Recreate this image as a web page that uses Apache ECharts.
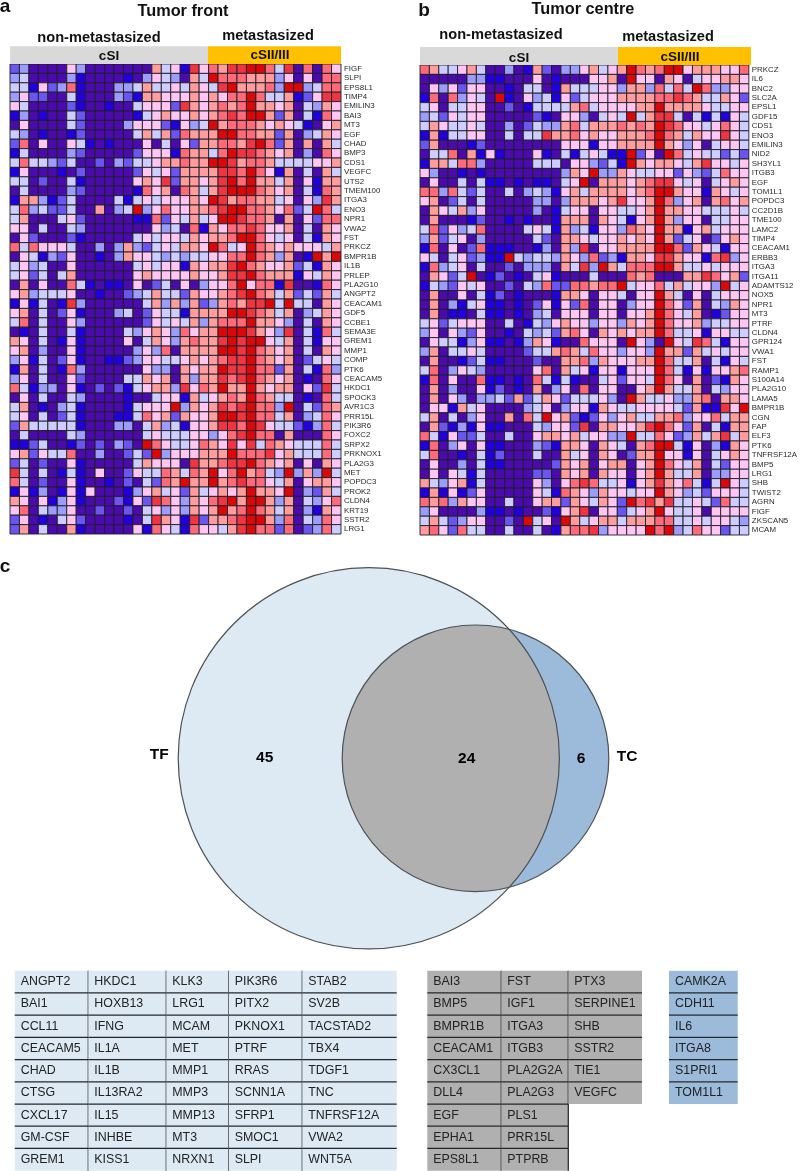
<!DOCTYPE html>
<html>
<head>
<meta charset="utf-8">
<style>html,body{margin:0;padding:0;background:#fff}#c{width:800px;height:1171px}</style>
<script src="https://cdn.jsdelivr.net/npm/echarts@6/dist/echarts.min.js"></script>
</head>
<body>
<div id="c"></div>
<script>
const genesA = ['FIGF','SLPI','EPS8L1','TIMP4','EMILIN3','BAI3','MT3','EGF','CHAD','BMP3','CDS1','VEGFC','UTS2','TMEM100','ITGA3','ENO3','NPR1','VWA2','FST','PRKCZ','BMPR1B','IL1B','PRLEP','PLA2G10','ANGPT2','CEACAM1','GDF5','CCBE1','SEMA3E','GREM1','MMP1','COMP','PTK6','CEACAM5','HKDC1','SPOCK3','AVR1C3','PRR15L','PIK3R6','FOXC2','SRPX2','PRKNOX1','PLA2G3','MET','POPDC3','PROK2','CLDN4','KRT19','SSTR2','LRG1'];
const genesB = ['PRKCZ','IL6','BNC2','SLC2A','EPSL1','GDF15','CDS1','ENO3','EMILIN3','NID2','SH3YL1','ITGB3','EGF','TOM1L1','POPDC3','CC2D1B','TME100','LAMC2','TIMP4','CEACAM1','ERBB3','ITGA3','ITGA11','ADAMTS12','NOX5','NPR1','MT3','PTRF','CLDN4','GPR124','VWA1','FST','RAMP1','S100A14','PLA2G10','LAMA5','BMPR1B','CGN','FAP','ELF3','PTK6','TNFRSF12A','BMP5','LRG1','SHB','TWIST2','AGRN','FIGF','ZKSCAN5','MCAM'];

// expression level per cell, 0 (lowest) to 9 (highest); one string per gene, 35 samples
const levelsA = [
'2 3 0 0 0 0 5 3 0 0 0 0 0 0 0 6 4 5 1 8 5 7 6 8 8 9 9 7 4 8 0 7 0 7 5',
'3 4 0 0 0 0 3 1 0 0 0 0 1 0 3 5 4 3 0 6 4 9 7 7 7 6 6 6 3 5 0 5 0 7 7',
'4 4 1 5 2 3 7 1 0 0 0 3 3 4 6 4 4 5 4 6 5 4 8 9 6 6 6 7 3 9 9 3 4 7 7',
'3 5 2 2 0 0 4 1 0 0 0 3 2 1 6 6 5 5 5 6 5 6 5 7 7 9 7 4 4 6 1 2 5 8 8',
'5 4 0 0 0 0 2 1 0 0 1 0 0 4 5 5 5 2 8 6 5 6 7 6 7 9 6 6 5 6 0 4 3 6 5',
'1 3 0 1 0 0 4 2 0 0 0 0 0 1 4 5 6 5 5 6 5 6 7 8 7 9 9 6 2 6 0 4 1 7 5',
'0 5 0 0 0 0 4 2 0 0 0 0 3 5 5 5 2 1 5 3 4 9 6 7 7 7 6 5 6 5 4 1 0 5 6',
'4 3 0 1 0 0 1 2 0 0 0 0 0 4 6 4 6 2 7 6 6 6 9 9 7 7 6 6 2 6 0 3 4 6 5',
'2 7 0 5 0 0 5 4 1 0 1 0 0 0 5 0 4 0 5 2 6 6 7 7 6 8 9 7 2 6 0 6 0 6 4',
'1 4 0 0 0 0 3 2 0 0 0 0 0 2 5 5 5 1 7 6 6 4 7 9 8 8 7 6 5 6 0 3 0 7 5',
'4 7 4 4 3 2 4 0 0 2 0 3 2 4 4 5 6 6 7 6 6 9 9 8 6 7 7 6 4 4 4 4 5 5 6',
'1 5 0 0 0 1 0 2 0 0 0 0 0 2 5 4 5 2 6 6 6 6 8 8 7 9 7 5 1 6 0 4 0 6 4',
'4 4 0 2 0 0 4 1 0 0 0 0 0 5 6 5 8 2 6 6 5 6 8 9 7 9 6 6 4 6 0 5 1 6 6',
'0 4 0 0 0 0 3 2 0 0 0 0 0 1 7 5 6 0 7 6 4 6 8 9 9 9 7 6 5 6 0 4 1 7 6',
'1 6 6 3 1 2 4 0 0 0 0 4 1 4 5 4 5 5 5 6 5 9 8 6 7 7 6 6 4 5 0 5 3 8 6',
'4 7 3 4 2 2 4 0 0 6 0 3 4 9 3 5 7 5 5 6 6 7 8 9 9 7 7 6 5 7 2 4 9 7 4',
'4 6 0 0 0 4 5 2 0 0 0 0 0 1 1 7 2 5 4 6 4 5 9 9 8 7 7 6 0 6 0 5 2 7 7',
'5 5 0 4 0 0 4 3 0 0 0 0 0 0 0 5 3 4 0 7 1 6 5 7 7 8 7 5 5 6 0 4 0 6 5',
'0 5 2 0 0 0 2 1 0 0 0 0 0 4 5 4 5 5 4 6 5 6 6 7 9 9 7 5 4 5 0 4 1 6 5',
'7 4 7 5 5 5 4 0 0 3 0 3 6 3 2 4 5 4 6 6 5 9 7 4 5 9 7 6 5 6 5 5 5 4 6',
'0 5 4 1 3 2 5 0 0 1 0 3 6 5 5 4 3 4 3 4 4 5 5 7 7 9 7 6 3 6 0 1 9 6 9',
'4 5 3 4 0 0 5 0 0 0 0 0 0 4 5 4 5 5 1 6 5 6 6 8 9 7 6 5 5 6 2 4 1 6 5',
'4 5 2 4 0 4 6 0 0 0 0 0 0 5 6 5 5 5 5 6 5 5 6 8 8 9 7 6 6 6 1 5 4 6 5',
'0 6 0 5 0 0 7 4 1 0 1 1 0 5 0 2 4 0 5 0 3 5 5 7 9 5 7 7 1 8 0 0 1 7 5',
'5 6 3 4 4 4 5 0 0 1 0 0 2 3 4 6 4 4 2 6 5 5 6 7 8 9 7 6 4 6 2 4 2 6 4',
'1 5 1 4 0 1 8 3 0 0 0 0 0 0 4 6 3 6 3 6 2 3 6 7 6 8 8 9 4 9 4 4 0 6 5',
'5 6 0 4 0 2 5 1 0 0 0 3 4 0 2 5 4 4 1 6 6 6 6 9 9 8 7 6 4 6 0 3 4 6 5',
'4 7 0 4 0 0 5 3 0 0 0 0 0 0 2 5 4 5 4 6 3 6 7 7 7 9 6 6 5 3 0 4 0 6 5',
'0 1 0 4 0 0 4 1 0 0 0 0 4 3 5 6 5 3 7 5 6 6 9 9 9 8 6 5 3 8 0 4 1 7 4',
'6 5 0 4 0 1 5 1 0 0 0 0 5 0 4 6 5 3 6 7 6 6 8 9 8 9 9 5 4 6 0 4 1 5 5',
'5 6 0 3 0 0 5 1 0 0 0 0 0 3 5 3 7 0 6 6 6 6 9 9 8 9 7 6 5 6 0 4 0 6 5',
'3 5 1 4 0 2 5 1 0 0 1 1 2 3 5 5 4 4 5 6 5 6 7 8 8 9 7 6 5 6 0 2 4 5 4',
'1 6 0 4 0 1 7 3 0 0 0 0 0 0 5 3 3 0 6 5 6 6 9 8 8 9 7 7 2 6 0 4 1 7 3',
'3 5 0 4 0 0 5 2 0 0 0 0 4 4 6 5 6 0 6 3 6 6 8 7 8 9 7 6 5 6 0 1 0 7 5',
'7 4 1 3 3 0 5 1 0 2 0 2 1 4 5 6 6 3 8 5 7 6 9 6 6 9 6 5 6 6 0 5 2 8 4',
'0 5 0 4 0 0 4 3 0 0 0 0 1 0 0 4 5 5 1 6 4 5 6 7 6 9 7 6 4 4 0 1 0 7 4',
'4 6 0 1 0 3 4 1 0 0 0 0 1 4 5 5 5 9 3 6 5 6 8 7 8 9 7 7 3 9 0 4 2 7 6',
'4 5 0 4 0 2 4 1 0 0 0 1 1 4 7 5 6 2 6 5 5 6 9 9 8 9 7 7 4 6 0 3 4 7 5',
'2 6 4 4 4 4 4 1 0 0 0 3 3 0 4 6 3 4 1 5 5 6 8 8 7 9 8 5 4 4 2 1 3 7 4',
'0 4 0 0 0 0 4 3 0 0 0 0 0 0 4 5 4 4 4 5 5 3 5 7 8 9 7 7 0 6 0 0 0 7 5',
'1 1 2 4 0 0 1 2 0 2 0 3 2 0 9 7 5 4 4 5 7 6 5 8 5 8 4 7 6 5 4 4 4 7 4',
'5 6 2 5 4 4 7 0 0 3 0 0 2 4 2 9 3 5 5 5 6 6 6 9 7 7 7 8 5 6 4 4 4 7 4',
'2 4 0 2 0 0 5 1 0 0 0 0 0 4 6 5 5 5 0 8 6 6 7 8 8 9 7 6 5 6 0 5 0 6 5',
'8 4 0 4 0 1 4 1 0 5 0 0 2 5 4 4 7 6 4 7 6 9 5 7 9 6 7 4 3 9 3 6 3 9 4',
'7 4 0 2 0 0 5 1 0 0 1 0 2 0 4 2 7 6 9 6 6 9 6 7 8 7 7 5 4 6 0 5 6 6 5',
'1 5 1 3 0 1 5 1 5 0 0 0 1 3 5 6 4 5 2 6 4 5 6 5 6 9 6 6 5 9 0 3 2 6 4',
'6 5 0 5 1 3 5 1 0 0 0 2 1 5 2 8 7 5 3 6 5 7 8 9 6 9 9 6 3 6 0 4 3 5 7',
'5 7 0 4 3 3 5 0 0 2 0 0 2 0 4 5 3 5 3 6 5 6 9 6 7 9 7 6 4 6 0 3 1 6 5',
'2 5 0 1 0 4 5 2 0 0 0 0 1 0 4 8 6 5 1 8 2 6 6 7 8 9 9 6 3 7 0 4 3 7 5',
'2 6 0 4 0 0 6 1 0 0 0 0 0 5 1 7 5 4 1 7 5 5 4 6 8 9 7 7 2 7 0 2 3 7 4'
];
const levelsB = [
'7 6 4 4 5 6 4 0 0 3 0 1 6 2 0 3 3 5 6 4 5 6 9 7 6 7 9 9 5 6 6 6 5 5 7',
'0 0 0 0 0 3 3 1 1 0 0 0 5 0 1 0 0 0 5 5 6 0 9 5 5 0 6 5 0 4 5 5 6 6 5',
'0 5 3 5 2 5 5 0 0 1 0 4 4 0 1 6 4 4 4 5 5 3 6 6 3 7 4 7 4 9 7 3 3 5 5',
'1 7 0 7 3 5 4 0 9 1 0 5 3 4 1 5 2 4 5 5 5 6 6 6 6 7 7 8 7 6 4 4 6 5 2',
'4 5 0 4 4 5 5 0 0 2 0 1 4 4 4 4 6 7 4 5 5 5 5 6 6 9 6 6 6 6 5 4 4 5 5',
'3 4 2 5 4 5 5 0 0 0 0 0 2 1 0 5 5 3 0 4 5 4 9 4 6 8 8 4 0 4 1 4 1 5 4',
'4 6 5 4 4 5 4 0 0 3 0 2 4 3 3 6 7 4 6 6 6 7 6 7 6 9 8 7 5 5 4 5 7 5 4',
'1 6 1 4 4 5 5 0 0 4 0 4 4 8 6 6 7 5 6 5 5 6 6 6 7 9 7 6 4 6 5 5 8 5 4',
'2 6 0 0 0 1 2 0 0 0 0 0 0 0 0 5 5 5 1 5 5 6 6 6 6 9 6 5 3 5 0 4 5 5 4',
'0 4 4 7 0 6 1 5 1 0 0 0 5 1 0 4 1 4 5 4 1 1 9 2 5 0 9 7 4 5 4 4 2 4 2',
'1 6 6 4 7 7 3 0 0 0 0 0 4 4 4 0 5 5 3 2 4 1 9 6 5 6 6 5 4 6 8 5 5 4 5',
'5 3 0 0 1 0 1 0 0 0 0 0 0 0 0 3 6 5 9 3 3 6 5 4 4 5 5 2 5 3 2 4 7 5 5',
'0 5 0 0 4 0 4 1 1 0 1 0 1 1 0 4 5 9 0 6 6 6 5 6 7 8 8 5 4 5 0 4 5 6 5',
'7 7 3 7 4 2 4 0 0 4 0 3 4 3 1 5 6 4 6 6 6 6 5 6 7 9 9 6 5 5 1 6 5 4 5',
'5 6 0 2 4 0 4 0 0 0 0 0 3 3 0 3 6 6 6 5 6 8 5 5 6 9 7 3 5 6 0 6 7 5 6',
'0 6 5 4 6 3 5 0 0 0 0 0 3 0 1 4 5 5 0 5 5 4 4 5 6 9 6 6 5 5 4 4 4 5 4',
'0 6 0 0 0 1 2 0 0 1 0 1 0 0 1 6 6 6 0 6 5 4 1 5 6 9 6 3 5 5 0 4 4 5 5',
'4 7 2 5 3 4 7 0 0 0 0 4 5 4 1 6 3 4 1 5 5 3 7 6 5 9 6 6 1 5 6 4 5 5 5',
'3 6 2 4 5 0 3 0 0 0 0 0 4 2 0 6 6 5 4 5 5 6 5 6 5 9 6 2 4 5 0 2 5 6 5',
'1 7 0 5 0 2 7 1 1 1 0 0 1 3 0 6 3 8 0 5 5 6 6 6 6 9 9 7 2 6 5 4 1 5 5',
'5 4 0 4 5 2 3 1 1 9 4 3 4 4 3 6 5 3 7 2 3 1 6 6 5 8 8 6 5 5 1 7 8 3 5',
'1 7 3 4 5 0 4 0 0 2 0 3 3 3 0 6 4 8 3 9 6 4 7 7 7 9 9 6 4 4 5 4 5 5 5',
'0 6 5 2 4 9 0 1 2 0 1 0 4 5 1 0 0 0 4 0 0 0 7 6 7 0 0 0 6 6 8 7 5 6 2',
'1 4 3 2 5 4 5 0 0 2 0 4 3 7 2 2 7 7 6 7 7 9 4 5 5 7 4 6 4 5 5 3 9 4 5',
'0 6 0 0 5 0 4 1 2 0 1 0 0 0 1 6 6 5 0 5 5 4 0 5 5 9 6 4 0 5 0 4 5 5 5',
'0 6 0 3 1 4 5 1 1 0 1 0 2 5 1 5 2 7 0 5 5 0 3 5 5 9 7 5 2 6 0 4 3 6 5',
'0 6 0 1 1 0 4 1 1 0 1 0 3 4 0 5 5 5 0 5 5 0 5 5 6 9 7 5 4 6 0 1 2 5 5',
'4 5 2 4 5 5 5 0 0 4 0 1 4 3 5 6 5 5 3 5 5 3 6 5 6 9 7 5 5 6 3 4 4 5 5',
'3 5 0 5 3 2 5 0 0 1 0 4 3 4 2 6 7 5 0 6 5 6 5 6 6 9 7 4 4 5 1 5 5 4 4',
'0 5 4 4 1 3 5 1 1 0 1 3 6 5 1 0 0 7 5 5 5 0 9 5 3 0 9 5 4 8 7 4 1 5 5',
'3 6 0 4 4 5 4 0 0 0 0 2 4 4 6 7 6 4 7 5 5 3 5 5 3 9 6 6 2 6 4 5 4 5 5',
'0 6 0 0 1 2 4 1 1 0 0 0 2 0 0 6 6 7 3 6 5 5 5 6 6 9 7 4 4 6 0 4 1 5 4',
'4 7 0 3 5 4 3 0 0 0 0 0 5 7 0 6 4 5 1 5 5 1 5 5 5 9 7 4 1 5 1 5 5 6 7',
'1 7 0 5 0 0 7 1 1 0 1 0 7 4 1 4 1 0 0 4 5 2 5 5 4 9 7 5 0 6 0 2 1 6 5',
'0 6 0 3 0 0 5 1 2 0 1 0 6 0 3 5 0 7 0 5 5 0 0 5 6 9 6 4 4 6 0 4 3 5 5',
'0 6 0 5 3 0 3 3 4 2 6 2 4 6 5 2 4 4 4 5 3 0 9 6 4 4 5 3 3 6 7 0 6 6 5',
'0 5 5 1 6 4 5 0 0 0 0 3 4 5 0 3 5 5 1 6 5 4 4 5 5 5 5 4 2 6 1 1 8 5 9',
'4 6 0 4 0 3 5 0 0 6 0 7 4 9 5 6 2 1 2 5 3 5 6 4 4 6 6 7 3 5 5 7 4 6 6',
'0 6 2 1 3 1 5 1 1 0 0 0 4 3 5 5 2 8 0 6 6 5 5 6 8 9 7 5 2 6 0 4 1 6 6',
'7 4 1 5 2 2 4 0 0 4 0 0 5 6 6 5 6 4 5 5 3 3 9 4 4 7 5 2 3 6 4 6 8 4 6',
'1 7 0 3 5 0 5 1 1 0 0 0 3 2 1 6 6 5 0 6 5 4 0 6 7 9 9 4 1 5 0 3 1 6 5',
'4 7 0 0 1 0 4 1 2 0 0 0 4 0 0 6 4 5 0 6 5 0 2 6 6 9 5 5 1 5 0 4 5 6 5',
'0 5 0 0 3 0 4 1 1 0 0 0 0 0 2 6 5 6 0 5 6 6 0 5 6 9 7 5 4 6 0 4 2 5 5',
'0 5 0 5 4 1 4 0 0 0 0 0 2 2 0 6 5 6 0 6 5 5 0 5 6 9 6 4 4 6 0 3 3 5 5',
'6 4 3 5 6 1 4 0 0 0 0 0 5 3 0 5 7 8 7 4 4 5 1 5 6 8 6 5 7 4 1 4 9 5 4',
'1 6 1 5 1 2 5 0 0 0 0 0 5 4 1 7 6 5 3 6 5 5 4 5 5 9 6 5 3 4 2 5 5 5 4',
'7 6 7 3 6 5 5 0 0 4 0 0 5 6 6 2 6 5 4 6 5 2 9 7 8 6 8 4 4 5 4 2 7 4 4',
'3 5 0 0 0 0 3 1 1 0 1 0 0 2 1 5 6 8 0 5 5 2 4 5 6 9 5 4 4 5 0 5 5 5 5',
'4 6 4 2 3 5 5 0 0 2 0 9 4 5 0 9 6 4 5 6 6 4 6 6 6 7 7 4 4 5 4 5 5 4 3',
'6 7 5 2 7 4 4 0 0 4 0 0 4 0 1 6 7 7 8 3 5 5 5 5 9 7 9 3 4 7 5 5 2 4 4'
];
const levelColors = ['#4A0AAC','#2200DC','#6A55EE','#9C9CFA','#CDCDFF','#FFC6F2','#FF9C9C','#FF6A78','#EE3540','#DC0808'];
const samples = Array.from({length: 35}, (_, i) => 'S' + (i + 1));

const overlapCounts = {TF: 45, both: 24, TC: 6};
const tableTF = [
  ['ANGPT2','BAI1','CCL11','CEACAM5','CHAD','CTSG','CXCL17','GM-CSF','GREM1'],
  ['HKDC1','HOXB13','IFNG','IL1A','IL1B','IL13RA2','IL15','INHBE','KISS1'],
  ['KLK3','LRG1','MCAM','MET','MMP1','MMP3','MMP13','MT3','NRXN1'],
  ['PIK3R6','PITX2','PKNOX1','PTRF','RRAS','SCNN1A','SFRP1','SMOC1','SLPI'],
  ['STAB2','SV2B','TACSTAD2','TBX4','TDGF1','TNC','TNFRSF12A','VWA2','WNT5A']
];
const tableBoth = [
  ['BAI3','BMP5','BMPR1B','CEACAM1','CX3CL1','DLL4','EGF','EPHA1','EPS8L1'],
  ['FST','IGF1','ITGA3','ITGB3','PLA2G2A','PLA2G3','PLS1','PRR15L','PTPRB'],
  ['PTX3','SERPINE1','SHB','SSTR2','TIE1','VEGFC']
];
const tableTC = [['CAMK2A','CDH11','IL6','ITGA8','S1PRI1','TOM1L1']];

// ---------- layout and styling ----------
const FONT = '"Liberation Sans", Arial, sans-serif';
const cells = rows => rows.flatMap((r, y) => r.trim().split(/\s+/).map((v, x) => [x, y, +v]));

function heatGrid(left, top, genes) {
  return {
    grid: {left, top, width: 331, height: 470},
    x: {type: 'category', data: samples, axisLine: {show: false}, axisTick: {show: false}, axisLabel: {show: false}, splitLine: {show: false}},
    y: {type: 'category', data: genes, inverse: true, position: 'right',
        axisLine: {show: false}, axisTick: {show: false}, splitLine: {show: false},
        axisLabel: {interval: 0, fontSize: 7.9, color: '#2a2a2a', fontFamily: FONT, margin: 3}}
  };
}
const hidden = t => Object.assign({show: false}, t);

function heatSeries(idx, rows) {
  return {
    type: 'custom', xAxisIndex: idx, yAxisIndex: idx, data: cells(rows), silent: true, encode: {x: 0, y: 1},
    renderItem(params, api) {
      const p = api.coord([api.value(0), api.value(1)]);
      const s = api.size([1, 1]);
      return {type: 'rect', shape: {x: p[0] - s[0] / 2, y: p[1] - s[1] / 2, width: s[0], height: s[1]},
        style: {fill: levelColors[api.value(2)], stroke: '#1d1d2a', lineWidth: 0.9}};
    }
  };
}

function tableParts(cols, edges, fill, left, top, gridIdx) {
  const rowCount = cols[0].length, rowH = 22.22;
  const data = cols.flatMap((col, c) => col.map((_, r) => [c, r]));
  return {
    grid: {left, top, width: edges[edges.length - 1], height: rowCount * rowH},
    x: hidden({type: 'value', min: 0, max: edges[edges.length - 1]}),
    y: hidden({type: 'category', inverse: true, data: cols[0].map((_, i) => i)}),
    series: {
      type: 'custom', xAxisIndex: gridIdx, yAxisIndex: gridIdx, data, silent: true,
      encode: {x: 0, y: 1},
      renderItem(params, api) {
        const c = api.value(0), r = api.value(1);
        const h = api.size([0, 1])[1];
        const p0 = api.coord([edges[c], r]), p1 = api.coord([edges[c + 1], r]);
        const y0 = p0[1] - h / 2, y1 = y0 + h;
        const kids = [{type: 'rect', shape: {x: p0[0], y: y0, width: p1[0] - p0[0], height: h}, style: {fill}}];
        const line = {stroke: '#23272b', lineWidth: 1.25};
        if (r > 0) kids.push({type: 'line', shape: {x1: p0[0], y1: y0, x2: p1[0], y2: y0}, style: line});
        if (c < cols.length - 1) kids.push({type: 'line', shape: {x1: p1[0], y1: y0, x2: p1[0], y2: y1}, style: line});
        kids.push({type: 'text', z2: 5, style: {text: cols[c][r], x: p0[0] + 6, y: p0[1], fill: '#222',
          fontSize: 12.4, fontFamily: FONT, align: 'left', verticalAlign: 'middle', textAlign: 'left', textVerticalAlign: 'middle'}});
        return {type: 'group', children: kids};
      }
    }
  };
}

const hA = heatGrid(10, 64, genesA);
const hB = heatGrid(420, 65, genesB);
const tTF = tableParts(tableTF, [0, 73.6, 151.6, 214, 287.6, 382], '#DDEAF3', 14.7, 970.7, 3);
const tBoth = tableParts(tableBoth, [0, 74, 141, 214.7], '#B0B0B0', 427.3, 970.7, 4);
const tTC = tableParts(tableTC, [0, 68.7], '#9CBBDB', 669, 970.7, 5);

const vennGeom = {TF: {cx: 368.8, cy: 758.3, r: 190.6}, TC: {cx: 475.5, cy: 758.3, r: 133.3}};
function lensPoints(a, b) {
  const d = b.cx - a.cx;
  const x = (d * d + a.r * a.r - b.r * b.r) / (2 * d);
  const th = Math.acos(x / a.r), ph = Math.acos((d - x) / b.r);
  const pts = [];
  for (let i = 0; i <= 60; i++) { const t = -th + 2 * th * i / 60; pts.push([a.cx + a.r * Math.cos(t), a.cy + a.r * Math.sin(t)]); }
  for (let i = 0; i <= 60; i++) { const t = Math.PI - ph + 2 * ph * i / 60; pts.push([b.cx + b.r * Math.cos(t), b.cy + b.r * Math.sin(t)]); }
  return pts;
}
const vennSeries = {
  type: 'custom', xAxisIndex: 2, yAxisIndex: 2, data: [[368.8, 758.3]], silent: true, encode: {x: 0, y: 1},
  renderItem(params, api) {
    const u = api.size([1, 0])[0];
    const circ = (g, style) => { const p = api.coord([g.cx, g.cy]); return {type: 'circle', shape: {cx: p[0], cy: p[1], r: g.r * u}, style}; };
    const txt = (text, x, y, size) => { const p = api.coord([x, y]); return {type: 'text', z2: 9, style: {text: String(text), x: p[0], y: p[1], fill: '#000',
      fontSize: size, fontWeight: 'bold', fontFamily: FONT, align: 'center', verticalAlign: 'middle', textAlign: 'center', textVerticalAlign: 'middle'}}; };
    const stroke = {fill: 'none', stroke: '#4d5256', lineWidth: 1.2};
    return {type: 'group', children: [
      circ(vennGeom.TF, {fill: '#DDEAF3'}),
      circ(vennGeom.TC, {fill: '#9CBBDB'}),
      {type: 'polygon', shape: {points: lensPoints(vennGeom.TF, vennGeom.TC).map(q => api.coord(q))}, style: {fill: '#B0B0B0'}},
      circ(vennGeom.TF, stroke),
      circ(vennGeom.TC, stroke),
      txt('TF', 159.3, 755, 15.5),
      txt('TC', 627, 757, 15.5),
      txt(overlapCounts.TF, 264.7, 757.5, 15.5),
      txt(overlapCounts.both, 466.7, 759, 15.5),
      txt(overlapCounts.TC, 581, 759, 15.5)
    ]};
  }
};

const label = (text, x, y, size, extra) => ({type: 'text', z: 20, style: Object.assign({text, x, y, fill: '#111', fontSize: size, fontWeight: 'bold', fontFamily: FONT,
  align: 'center', verticalAlign: 'middle', textAlign: 'center', textVerticalAlign: 'middle'}, extra || {})});
const bar = (x, y, width, height, fill) => ({type: 'rect', z: 10, shape: {x, y, width, height}, style: {fill}});

const chart = echarts.init(document.getElementById('c'), null, {renderer: 'canvas'});
chart.setOption({
  animation: false,
  backgroundColor: '#fff',
  textStyle: {fontFamily: FONT},
  tooltip: {show: false},
  grid: [hA.grid, hB.grid, {left: 130, top: 555, width: 520, height: 405}, tTF.grid, tBoth.grid, tTC.grid],
  xAxis: [hA.x, hB.x, hidden({type: 'value', min: 130, max: 650}), tTF.x, tBoth.x, tTC.x].map((a, i) => Object.assign({gridIndex: i}, a)),
  yAxis: [hA.y, hB.y, hidden({type: 'value', min: 555, max: 960, inverse: true}), tTF.y, tBoth.y, tTC.y].map((a, i) => Object.assign({gridIndex: i}, a)),
  series: [
    heatSeries(0, levelsA),
    heatSeries(1, levelsB),
    vennSeries, tTF.series, tBoth.series, tTC.series
  ],
  graphic: {elements: [
    bar(10, 46.3, 198, 17.7, '#D9D9D9'), bar(208, 46.3, 133, 17.7, '#FFC000'),
    bar(420, 47, 198, 18, '#D9D9D9'), bar(618, 47, 133, 18, '#FFC000'),
    label('a', 5, 7, 19), label('b', 424, 10.5, 19), label('c', 5, 567, 19),
    label('Tumor front', 183, 11.5, 16.3), label('Tumor centre', 583, 10, 16.3),
    label('non-metastasized', 99, 37.5, 14.6), label('metastasized', 268, 36, 14.6),
    label('non-metastasized', 501, 35, 14.6), label('metastasized', 668, 37, 14.6),
    label('cSI', 109, 56.5, 13.5), label('cSII/III', 270, 55.5, 13.5),
    label('cSI', 519, 58, 13.5), label('cSII/III', 680, 57, 13.5)
  ]}
});
</script>
</body>
</html>
